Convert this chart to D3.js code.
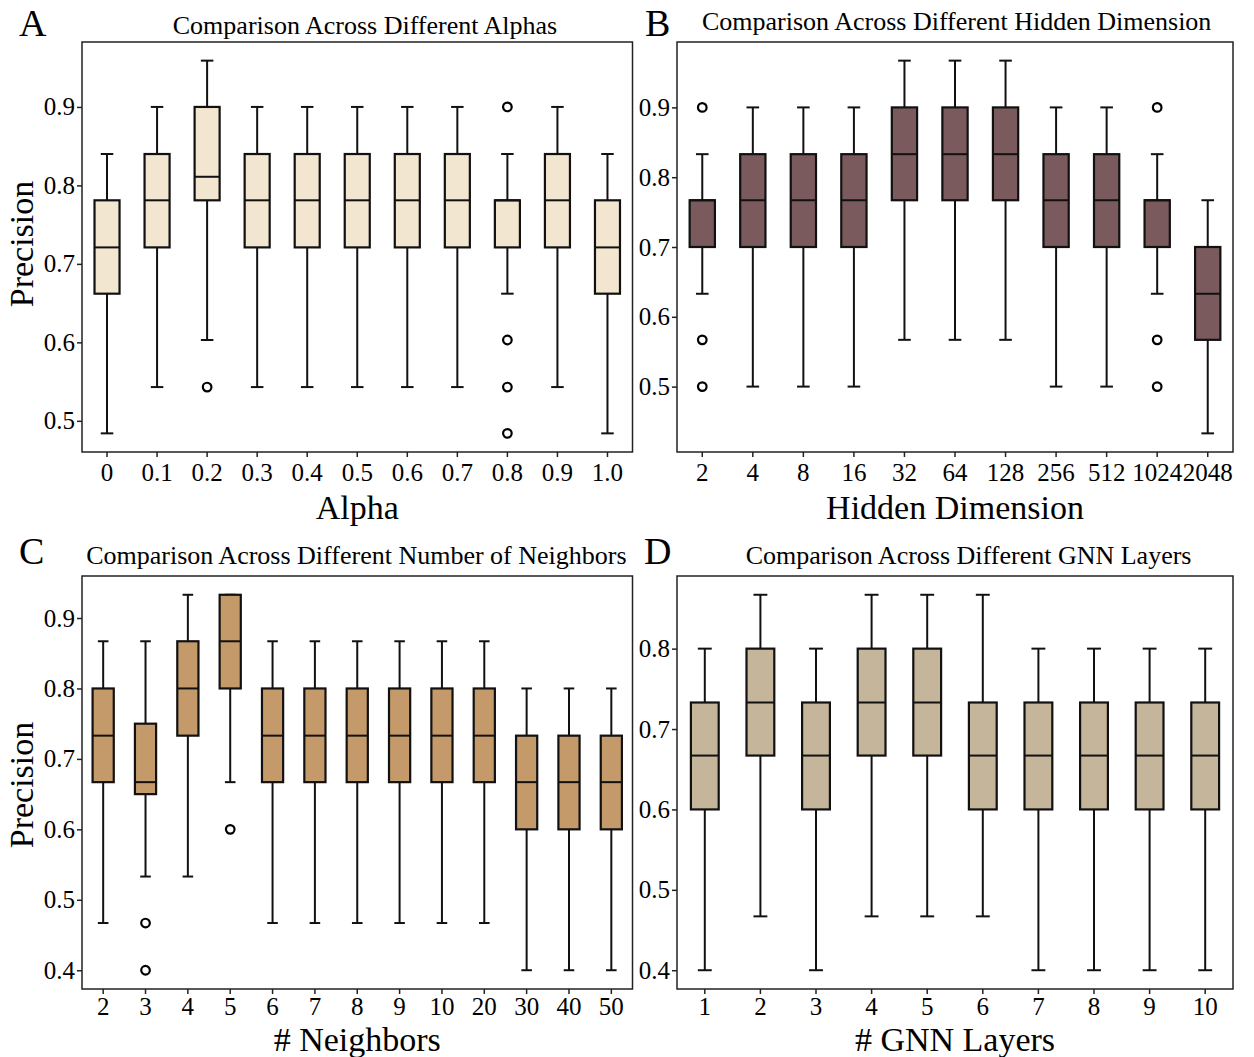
<!DOCTYPE html>
<html>
<head>
<meta charset="utf-8">
<script src="https://cdn.jsdelivr.net/npm/d3@7"></script>
<style>
  body { margin: 0; background: #fff; }
  svg { display: block; }
  text { font-family: "Liberation Serif", "Times New Roman", serif; fill: #000; }
</style>
</head>
<body>
<div id="chart"></div>
<script>
// DATA ----------------------------------------------
// each stat row: [lower whisker, q1, median, q3, upper whisker]
const alphaCats = ["0", "0.1", "0.2", "0.3", "0.4", "0.5", "0.6", "0.7", "0.8", "0.9", "1.0"];
const alphaStats = [
  [0.484, 0.662, 0.721, 0.781, 0.840],
  [0.543, 0.721, 0.781, 0.840, 0.900],
  [0.603, 0.781, 0.811, 0.900, 0.959],
  [0.543, 0.721, 0.781, 0.840, 0.900],
  [0.543, 0.721, 0.781, 0.840, 0.900],
  [0.543, 0.721, 0.781, 0.840, 0.900],
  [0.543, 0.721, 0.781, 0.840, 0.900],
  [0.543, 0.721, 0.781, 0.840, 0.900],
  [0.662, 0.721, 0.781, 0.781, 0.840],
  [0.543, 0.721, 0.781, 0.840, 0.900],
  [0.484, 0.662, 0.721, 0.781, 0.840]
];
const alphaOutliers = [[], [], [0.543], [], [], [], [], [], [0.900, 0.603, 0.543, 0.484], [], []];

const hiddenCats = ["2", "4", "8", "16", "32", "64", "128", "256", "512", "1024", "2048"];
const hiddenStats = [
  [0.633, 0.700, 0.767, 0.767, 0.833],
  [0.500, 0.700, 0.767, 0.833, 0.900],
  [0.500, 0.700, 0.767, 0.833, 0.900],
  [0.500, 0.700, 0.767, 0.833, 0.900],
  [0.567, 0.767, 0.833, 0.900, 0.967],
  [0.567, 0.767, 0.833, 0.900, 0.967],
  [0.567, 0.767, 0.833, 0.900, 0.967],
  [0.500, 0.700, 0.767, 0.833, 0.900],
  [0.500, 0.700, 0.767, 0.833, 0.900],
  [0.633, 0.700, 0.767, 0.767, 0.833],
  [0.433, 0.567, 0.633, 0.700, 0.767]
];
const hiddenOutliers = [[0.900, 0.567, 0.500], [], [], [], [], [], [], [], [], [0.900, 0.567, 0.500], []];

const neighborCats = ["2", "3", "4", "5", "6", "7", "8", "9", "10", "20", "30", "40", "50"];
const neighborStats = [
  [0.467, 0.667, 0.733, 0.800, 0.867],
  [0.533, 0.650, 0.667, 0.750, 0.867],
  [0.533, 0.733, 0.800, 0.867, 0.933],
  [0.667, 0.800, 0.867, 0.933, 0.933],
  [0.467, 0.667, 0.733, 0.800, 0.867],
  [0.467, 0.667, 0.733, 0.800, 0.867],
  [0.467, 0.667, 0.733, 0.800, 0.867],
  [0.467, 0.667, 0.733, 0.800, 0.867],
  [0.467, 0.667, 0.733, 0.800, 0.867],
  [0.467, 0.667, 0.733, 0.800, 0.867],
  [0.400, 0.600, 0.667, 0.733, 0.800],
  [0.400, 0.600, 0.667, 0.733, 0.800],
  [0.400, 0.600, 0.667, 0.733, 0.800]
];
const neighborOutliers = [[], [0.467, 0.400], [], [0.600], [], [], [], [], [], [], [], [], []];

const layerCats = ["1", "2", "3", "4", "5", "6", "7", "8", "9", "10"];
const layerStats = [
  [0.400, 0.600, 0.667, 0.733, 0.800],
  [0.467, 0.667, 0.733, 0.800, 0.867],
  [0.400, 0.600, 0.667, 0.733, 0.800],
  [0.467, 0.667, 0.733, 0.800, 0.867],
  [0.467, 0.667, 0.733, 0.800, 0.867],
  [0.467, 0.600, 0.667, 0.733, 0.867],
  [0.400, 0.600, 0.667, 0.733, 0.800],
  [0.400, 0.600, 0.667, 0.733, 0.800],
  [0.400, 0.600, 0.667, 0.733, 0.800],
  [0.400, 0.600, 0.667, 0.733, 0.800]
];
const layerOutliers = [[], [], [], [], [], [], [], [], [], []];

// LAYOUT --------------------------------------------
const W = 1254, H = 1057;
const serif = '"Liberation Serif", "Times New Roman", serif';
const panels = [
  {letter: "A", title: "Comparison Across Different Alphas", xlabel: "Alpha", ylabel: "Precision",
   cats: alphaCats, stats: alphaStats, outliers: alphaOutliers, fill: "#f2e6d0",
   x0: 82, x1: 632.5, y0: 42, y1: 452, ticks: [0.5, 0.6, 0.7, 0.8, 0.9], xpad: 6,
   letterPos: [19, 35.5], titlePos: [365, 33.8], xlabelY: 518.6, ylabelPos: [33, 244]},
  {letter: "B", title: "Comparison Across Different Hidden Dimension", xlabel: "Hidden Dimension",
   cats: hiddenCats, stats: hiddenStats, outliers: hiddenOutliers, fill: "#7b5a5d",
   x0: 677, x1: 1233, y0: 42, y1: 452, ticks: [0.5, 0.6, 0.7, 0.8, 0.9], xpad: 6,
   letterPos: [645, 35.5], titlePos: [956.7, 30.4], xlabelY: 518.6},
  {letter: "C", title: "Comparison Across Different Number of Neighbors", xlabel: "# Neighbors", ylabel: "Precision",
   cats: neighborCats, stats: neighborStats, outliers: neighborOutliers, fill: "#c49a6b",
   x0: 82, x1: 632.5, y0: 576, y1: 989, ticks: [0.4, 0.5, 0.6, 0.7, 0.8, 0.9], xpad: 3,
   letterPos: [19, 563.8], titlePos: [356.4, 563.8], xlabelY: 1051, ylabelPos: [33, 785]},
  {letter: "D", title: "Comparison Across Different GNN Layers", xlabel: "# GNN Layers",
   cats: layerCats, stats: layerStats, outliers: layerOutliers, fill: "#c4b59b",
   x0: 677, x1: 1233, y0: 576, y1: 989, ticks: [0.4, 0.5, 0.6, 0.7, 0.8], xpad: 3,
   letterPos: [644, 563.8], titlePos: [968.6, 563.8], xlabelY: 1051}
];

const svg = d3.select("#chart").append("svg")
    .attr("width", W)
    .attr("height", H)
    .style("font-family", serif);

panels.forEach(drawPanel);

function drawPanel(p) {
    // y domain padded 5% like matplotlib autoscale
    const all = p.stats.flat().concat(p.outliers.flat());
    const [lo, hi] = d3.extent(all);
    const pad = (hi - lo) * 0.05;

    const x = d3.scaleBand().domain(p.cats).range([p.x0, p.x1]).padding(0);
    const y = d3.scaleLinear().domain([lo - pad, hi + pad]).range([p.y1, p.y0]);

    const g = svg.append("g");

    // axes
    const yAxis = g.append("g")
        .attr("transform", `translate(${p.x0},0)`)
        .call(d3.axisLeft(y).tickValues(p.ticks).tickFormat(d3.format(".1f")).tickSizeOuter(0).tickSize(5).tickPadding(2));
    const xAxis = g.append("g")
        .attr("transform", `translate(0,${p.y1})`)
        .call(d3.axisBottom(x).tickSizeOuter(0).tickSize(5).tickPadding(p.xpad));
    [yAxis, xAxis].forEach(a => {
        a.attr("font-family", null).attr("font-size", null);
        a.select(".domain").remove();
        a.selectAll(".tick line").attr("stroke", "#222").attr("stroke-width", 1.5);
        a.selectAll(".tick text")
            .style("font-family", serif)
            .attr("font-size", 25)
            .attr("fill", "#000");
    });

    const bw = x.bandwidth() * 0.5;
    const boxes = g.selectAll("g.box")
        .data(p.stats.map((s, i) => ({cat: p.cats[i], s: s, out: p.outliers[i]})))
        .join("g")
        .attr("class", "box")
        .attr("transform", d => `translate(${x(d.cat) + x.bandwidth() / 2},0)`);

    // whiskers
    boxes.append("line")
        .attr("x1", 0).attr("x2", 0)
        .attr("y1", d => y(d.s[0])).attr("y2", d => y(d.s[1]))
        .attr("stroke", "#111").attr("stroke-width", 2);
    boxes.append("line")
        .attr("x1", 0).attr("x2", 0)
        .attr("y1", d => y(d.s[3])).attr("y2", d => y(d.s[4]))
        .attr("stroke", "#111").attr("stroke-width", 2);
    // caps
    [0, 4].forEach(k => {
        boxes.append("line")
            .attr("x1", -bw / 4).attr("x2", bw / 4)
            .attr("y1", d => y(d.s[k])).attr("y2", d => y(d.s[k]))
            .attr("stroke", "#111").attr("stroke-width", 2);
    });
    // box
    boxes.append("rect")
        .attr("x", -bw / 2)
        .attr("width", bw)
        .attr("y", d => y(d.s[3]))
        .attr("height", d => y(d.s[1]) - y(d.s[3]))
        .attr("fill", p.fill)
        .attr("stroke", "#111")
        .attr("stroke-width", 2.2);
    // median
    boxes.append("line")
        .attr("x1", -bw / 2).attr("x2", bw / 2)
        .attr("y1", d => y(d.s[2])).attr("y2", d => y(d.s[2]))
        .attr("stroke", "#111").attr("stroke-width", 2);
    // outliers
    boxes.selectAll("circle")
        .data(d => d.out)
        .join("circle")
        .attr("cx", 0)
        .attr("cy", d => y(d))
        .attr("r", 4.3)
        .attr("fill", "none")
        .attr("stroke", "#000")
        .attr("stroke-width", 2.2);

    // frame
    g.append("rect")
        .attr("x", p.x0).attr("y", p.y0)
        .attr("width", p.x1 - p.x0).attr("height", p.y1 - p.y0)
        .attr("fill", "none")
        .attr("stroke", "#222")
        .attr("stroke-width", 1.5);

    // texts
    g.append("text")
        .attr("x", p.letterPos[0]).attr("y", p.letterPos[1])
        .attr("font-size", 38)
        .text(p.letter);
    g.append("text")
        .attr("x", p.titlePos[0]).attr("y", p.titlePos[1])
        .attr("text-anchor", "middle")
        .attr("font-size", 26)
        .text(p.title);
    g.append("text")
        .attr("x", (p.x0 + p.x1) / 2).attr("y", p.xlabelY)
        .attr("text-anchor", "middle")
        .attr("font-size", 34)
        .text(p.xlabel);
    if (p.ylabel) {
        g.append("text")
            .attr("transform", `translate(${p.ylabelPos[0]},${p.ylabelPos[1]}) rotate(-90)`)
            .attr("text-anchor", "middle")
            .attr("font-size", 34)
            .text(p.ylabel);
    }
}
</script>
</body>
</html>
